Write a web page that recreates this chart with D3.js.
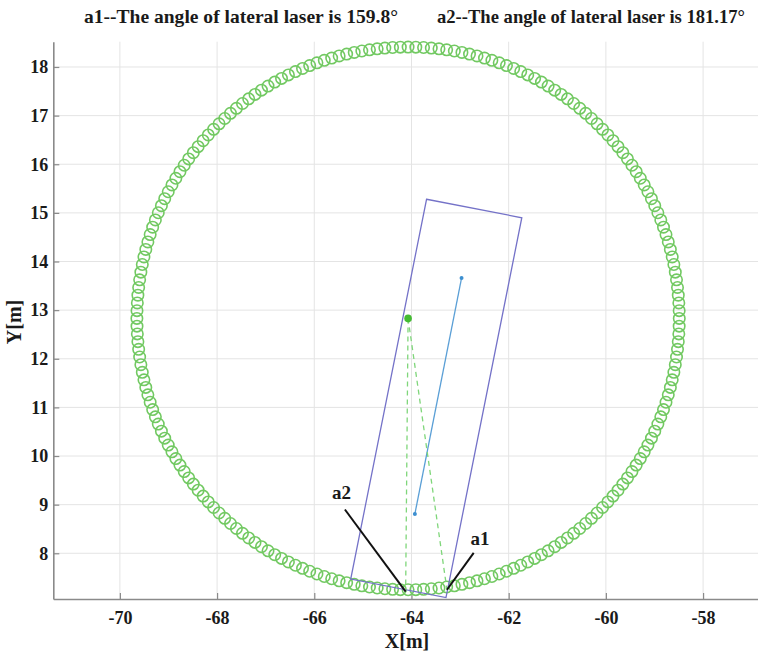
<!DOCTYPE html>
<html><head><meta charset="utf-8">
<script src="https://cdn.jsdelivr.net/npm/d3@7"></script>
<style>body{margin:0;background:#fff}svg{display:block}text{font-family:"Liberation Serif","Times New Roman",serif !important;font-weight:bold;fill:#1a1a1a}</style>
</head><body><svg id="c" width="758" height="654"></svg>
<script>
// ---- data ----
const xTicks = [-70, -68, -66, -64, -62, -60, -58];
const yTicks = [8, 9, 10, 11, 12, 13, 14, 15, 16, 17, 18];
const xDomain = [-71.37, -56.87];
const yDomain = [7.06, 18.52];
const circleCenter = [-64.07, 12.83];
const circleRadius = 5.58;
const circleMarkerCount = 220;
const rectCorners = [[-63.69, 15.28], [-61.73, 14.90], [-63.29, 7.09], [-65.25, 7.47]];
const blueLine = [[-63.93, 8.81], [-62.97, 13.66]];
const a1Point = [-63.27, 7.25];
const a2Point = [-64.12, 7.21];
const a1Label = {text: "a1", pos: [-62.59, 8.25], from: [-62.72, 8.01]};
const a2Label = {text: "a2", pos: [-65.44, 9.20], from: [-65.37, 8.90]};
const titles = ["a1--The angle of lateral laser is 159.8°", "a2--The angle of lateral laser is 181.17°"];

// ---- chart ----
(function () {
const svg = d3.select("#c");
const pl = 53.3, pr = 758, pt = 41.7, pb = 599;
const x = d3.scaleLinear().domain(xDomain).range([pl, pr]);
const y = d3.scaleLinear().domain(yDomain).range([pb, pt]);

// grid
svg.append("g").selectAll("line").data(xTicks).join("line")
  .attr("x1", d => x(d)).attr("x2", d => x(d)).attr("y1", pt).attr("y2", pb)
  .attr("stroke", "#e4e4e4").attr("stroke-width", 1);
svg.append("g").selectAll("line").data(yTicks).join("line")
  .attr("y1", d => y(d)).attr("y2", d => y(d)).attr("x1", pl).attr("x2", pr)
  .attr("stroke", "#e4e4e4").attr("stroke-width", 1);

// axes
const xAxis = svg.append("g").attr("transform", `translate(0,${pb})`)
  .call(d3.axisBottom(x).tickValues(xTicks).tickSizeInner(-6).tickSizeOuter(0).tickPadding(12).tickFormat(d => String(d)));
const yAxis = svg.append("g").attr("transform", `translate(${pl},0)`)
  .call(d3.axisLeft(y).tickValues(yTicks).tickSizeInner(-6).tickSizeOuter(0).tickPadding(5));
[xAxis, yAxis].forEach(g => {
  g.attr("font-family", null).attr("font-size", null);
  g.select(".domain").attr("stroke", "#8a8a8a").attr("stroke-width", 1.6);
  g.selectAll(".tick line").attr("stroke", "#8a8a8a").attr("stroke-width", 1.2);
  g.selectAll(".tick text").style("font-size", "18px").style("fill", "#1a1a1a")
    .style("font-family", '"Liberation Serif",serif').style("font-weight", "bold");
});

// circle markers
const angles = d3.range(circleMarkerCount).map(i => i * 2 * Math.PI / circleMarkerCount);
svg.append("g").selectAll("circle").data(angles).join("circle")
  .attr("cx", a => x(circleCenter[0] + circleRadius * Math.cos(a)))
  .attr("cy", a => y(circleCenter[1] + circleRadius * Math.sin(a)))
  .attr("r", 5.7).attr("fill", "none").attr("stroke", "#72c962").attr("stroke-width", 1.6);

// rectangle
svg.append("path").datum(rectCorners)
  .attr("d", d3.line().x(d => x(d[0])).y(d => y(d[1])).curve(d3.curveLinearClosed))
  .attr("fill", "none").attr("stroke", "#7472c8").attr("stroke-width", 1.3);

// blue line with end markers
svg.append("path").datum(blueLine)
  .attr("d", d3.line().x(d => x(d[0])).y(d => y(d[1])))
  .attr("stroke", "#5a9fd6").attr("stroke-width", 1.3).attr("fill", "none");
svg.append("g").selectAll("circle").data(blueLine).join("circle")
  .attr("cx", d => x(d[0])).attr("cy", d => y(d[1])).attr("r", 2).attr("fill", "#3d8fd0");

// dashed green lines
[a2Point, a1Point].forEach(p => {
  svg.append("line").attr("x1", x(circleCenter[0])).attr("y1", y(circleCenter[1]))
    .attr("x2", x(p[0])).attr("y2", y(p[1]))
    .attr("stroke", "#7fd67a").attr("stroke-width", 1.3).attr("stroke-dasharray", "5,4");
});
svg.append("circle").attr("cx", x(circleCenter[0])).attr("cy", y(circleCenter[1]))
  .attr("r", 3.8).attr("fill", "#44bb33");

// annotations
[[a2Label, a2Point], [a1Label, a1Point]].forEach(([lab, p]) => {
  svg.append("line").attr("x1", x(lab.from[0])).attr("y1", y(lab.from[1]))
    .attr("x2", x(p[0])).attr("y2", y(p[1])).attr("stroke", "#111").attr("stroke-width", 2);
  svg.append("text").attr("x", x(lab.pos[0])).attr("y", y(lab.pos[1]))
    .attr("text-anchor", "middle").attr("dominant-baseline", "middle")
    .style("font-size", "19px").text(lab.text);
});

// titles
svg.append("text").attr("x", 84).attr("y", 23).style("font-size", "19px")
  .attr("textLength", 314).attr("lengthAdjust", "spacingAndGlyphs").text(titles[0]);
svg.append("text").attr("x", 437).attr("y", 23).style("font-size", "19px")
  .attr("textLength", 308).attr("lengthAdjust", "spacingAndGlyphs").text(titles[1]);

// axis labels
svg.append("text").attr("x", 407).attr("y", 648).attr("text-anchor", "middle").style("font-size", "20px").text("X[m]");
svg.append("text").attr("transform", "translate(21,322) rotate(-90)").attr("text-anchor", "middle")
  .style("font-size", "20px").text("Y[m]");
})();
</script></body></html>
